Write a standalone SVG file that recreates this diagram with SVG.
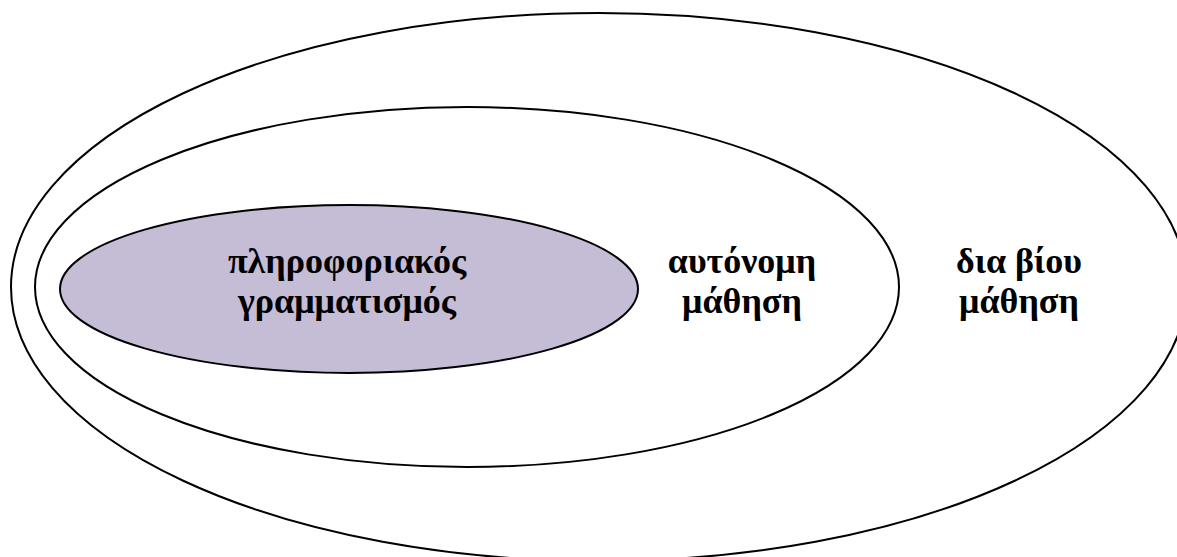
<svg xmlns="http://www.w3.org/2000/svg" width="1177" height="557" viewBox="0 0 1177 557">
<style>
.ring{fill:none;stroke:#000;stroke-width:2}
.core{fill:#c5bcd6;stroke:#000;stroke-width:2}
.lbl{font-family:"Liberation Serif","Times New Roman",serif;font-weight:bold;font-size:36px;fill:#000;text-anchor:middle}
</style>
<rect width="1177" height="557" fill="#fff"/>
<g id="lifelong">
<ellipse class="ring" cx="599" cy="287" rx="588" ry="274"/>
<text class="lbl" x="1019" y="273">δια βίου</text>
<text class="lbl" x="1019" y="313">μάθηση</text>
</g>
<g id="autonomous">
<ellipse class="ring" cx="467" cy="287" rx="432" ry="180"/>
<text class="lbl" x="742" y="273">αυτόνομη</text>
<text class="lbl" x="742" y="313">μάθηση</text>
</g>
<g id="literacy">
<ellipse class="core" cx="349" cy="289" rx="289" ry="84"/>
<text class="lbl" x="347" y="273">πληροφοριακός</text>
<text class="lbl" x="347" y="313">γραμματισμός</text>
</g>
<g id="connectors"></g>
</svg>
